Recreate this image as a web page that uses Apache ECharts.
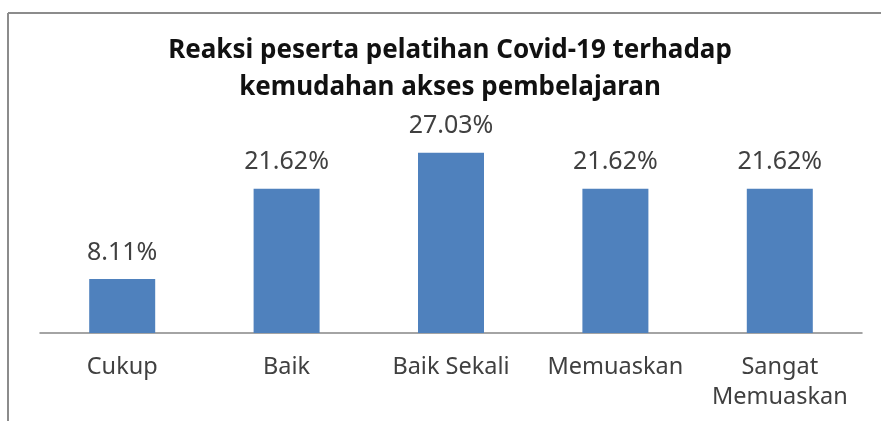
<!DOCTYPE html>
<html>
<head>
<meta charset="utf-8">
<script src="https://cdn.jsdelivr.net/npm/echarts@6/dist/echarts.min.js"></script>
<style>
html,body{margin:0;padding:0;background:#fff;}
#c{width:881px;height:421px;}
</style>
</head>
<body>
<div id="c"></div>
<script>
const titleLines = ['Reaksi peserta pelatihan Covid-19 terhadap', 'kemudahan akses pembelajaran'];
const categories = ['Cukup', 'Baik', 'Baik Sekali', 'Memuaskan', 'Sangat\nMemuaskan'];
const values = [8.11, 21.62, 27.03, 21.62, 21.62];

const FONT = 'Noto Sans';
const chart = echarts.init(document.getElementById('c'), null, {renderer: 'canvas'});
chart.setOption({
  backgroundColor: '#fff',
  animation: false,
  title: {
    text: titleLines.join('\n'),
    left: 445,
    textAlign: 'center',
    top: 27,
    textStyle: {fontFamily: FONT, fontWeight: 'bold', fontSize: 26, color: '#111', lineHeight: 37}
  },
  graphic: [
    {type: 'line', shape: {x1: 8, y1: 13, x2: 881, y2: 13}, style: {stroke: '#8c8c8c', lineWidth: 2}},
    {type: 'line', shape: {x1: 8, y1: 13, x2: 8, y2: 421}, style: {stroke: '#8c8c8c', lineWidth: 2}}
  ],
  grid: {left: 40, right: 19, top: 133, bottom: 88, containLabel: false},
  xAxis: {
    type: 'category',
    data: categories,
    axisLine: {lineStyle: {color: '#868686', width: 1.5}},
    axisTick: {show: false},
    axisLabel: {interval: 0, hideOverlap: false, margin: 19, fontFamily: FONT, fontSize: 23.5, color: '#404040', lineHeight: 30}
  },
  yAxis: {type: 'value', min: 0, max: 30, show: false, splitLine: {show: false}},
  series: [{
    type: 'bar',
    data: values,
    barWidth: 66,
    itemStyle: {color: '#4F81BD'},
    label: {
      show: true,
      position: 'top',
      distance: 14,
      formatter: p => p.value.toFixed(2) + '%',
      fontFamily: FONT,
      fontSize: 25,
      color: '#404040'
    }
  }]
});
</script>
</body>
</html>
